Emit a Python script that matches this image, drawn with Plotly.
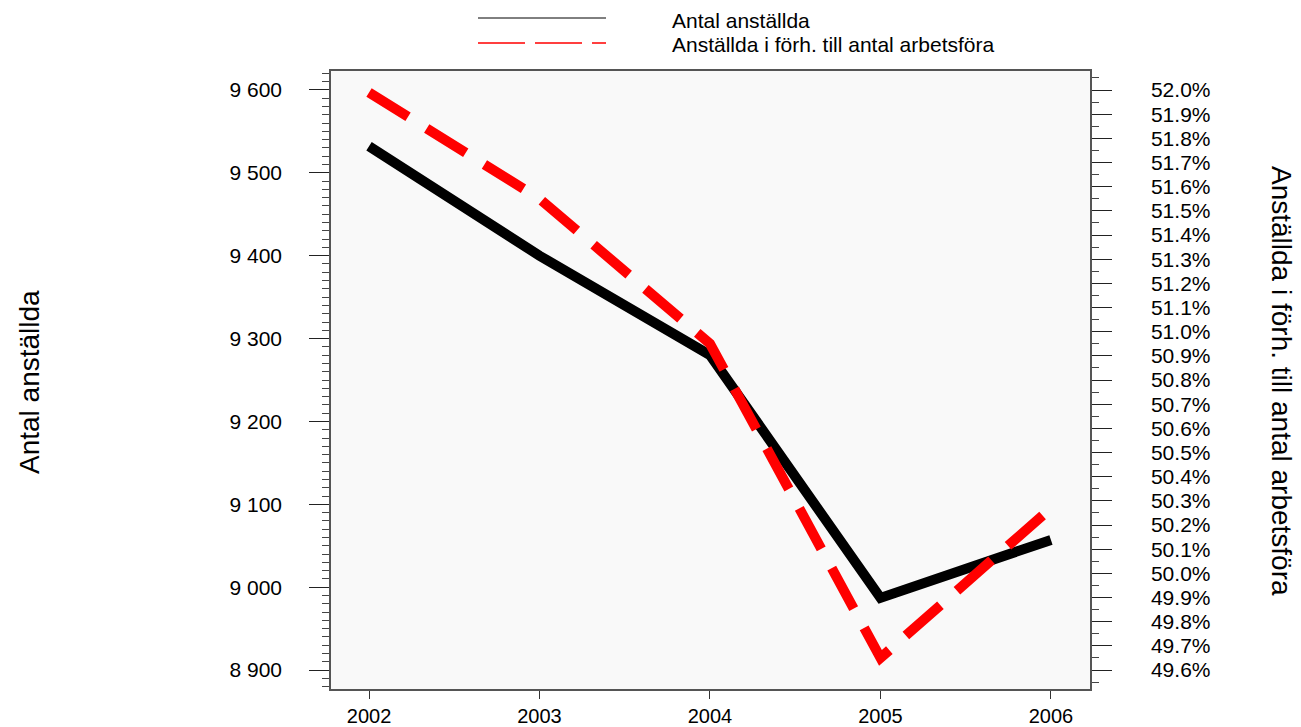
import plotly.graph_objects as go

years = [2002, 2003, 2004, 2005, 2006]
anstallda = [9532, 9400, 9280, 8987, 9057]
andel_pct = [51.99, 51.55, 50.95, 49.65, 50.27]

name1 = "Antal anställda"
name2 = "Anställda i förh. till antal arbetsföra"
left_title = "Antal anställda"
right_title = "Anställda i förh. till antal arbetsföra"

left_ticks = [8900, 9000, 9100, 9200, 9300, 9400, 9500, 9600]
left_labels = ["8 900", "9 000", "9 100", "9 200", "9 300", "9 400", "9 500", "9 600"]
right_ticks = [49.6 + 0.1 * i for i in range(25)]

FONT = "Liberation Sans, Arial, sans-serif"

# page has an 8px body margin; compensate so that page coordinates match
OFF = 8
PL, PR, PT, PB = 331, 1090, 71, 689   # plot area in page pixels
FW, FH = 1301 - OFF, 727 - OFF
ML, MR, MT, MB = PL - OFF, FW - (PR - OFF), PT - OFF, FH - (PB - OFF)
W = PR - PL
H = PB - PT


def px(xp):
    return (xp - PL) / W


def py(yp):
    return (PB - yp) / H


fig = go.Figure()
fig.add_trace(go.Scatter(x=years, y=anstallda, mode="lines", name=name1,
                         line=dict(color="black", width=10), yaxis="y", showlegend=False))
fig.add_trace(go.Scatter(x=years, y=andel_pct, mode="lines", name=name2,
                         line=dict(color="#ff0000", width=10, dash="46px,22px"),
                         yaxis="y2", showlegend=False))

fig.update_layout(
    width=FW, height=FH,
    margin=dict(l=ML, r=MR, t=MT, b=MB, autoexpand=False),
    paper_bgcolor="white",
    plot_bgcolor="#f9f9f9",
    font=dict(family=FONT, size=21, color="black"),
    xaxis=dict(range=[2001.777, 2006.229], tickvals=years, ticktext=[str(y) for y in years],
               ticks="outside", ticklen=8, tickcolor="#333", showgrid=False, zeroline=False,
               showline=True, linecolor="#555", linewidth=1.5, mirror=True,
               tickfont=dict(size=20), ticklabelstandoff=0, automargin=False),
    yaxis=dict(range=[8877.1, 9622.9], tickvals=left_ticks, ticktext=left_labels,
               ticks="outside", ticklen=20, tickcolor="#222", showgrid=False, zeroline=False,
               showline=True, linecolor="#555", linewidth=1.5,
               ticklabelstandoff=23, automargin=False,
               minor=dict(dtick=10, tick0=8900, ticks="outside", ticklen=7, tickcolor="#444",
                          showgrid=False)),
    yaxis2=dict(range=[49.5214, 52.0786], overlaying="y", side="right",
                tickvals=right_ticks, ticktext=["%.1f%%" % v for v in right_ticks],
                ticks="outside", ticklen=20, tickcolor="#222", showgrid=False, zeroline=False,
                showline=True, linecolor="#555", linewidth=1.5,
                ticklabelstandoff=35, automargin=False,
                minor=dict(dtick=0.05, tick0=49.6, ticks="outside", ticklen=7, tickcolor="#444",
                           showgrid=False)),
)

# axis titles
fig.add_annotation(text=left_title, textangle=-90, showarrow=False, font=dict(size=28),
                   xref="paper", yref="paper", x=px(29), y=py(382),
                   xanchor="center", yanchor="middle")
fig.add_annotation(text=right_title, textangle=90, showarrow=False, font=dict(size=28),
                   xref="paper", yref="paper", x=px(1281), y=py(381),
                   xanchor="center", yanchor="middle")

# legend drawn above the plot
fig.add_shape(type="line", xref="paper", yref="paper", x0=px(478), x1=px(606), y0=py(18), y1=py(18),
              line=dict(color="black", width=1))
fig.add_shape(type="line", xref="paper", yref="paper", x0=px(478), x1=px(606), y0=py(43), y1=py(43),
              line=dict(color="#ff0000", width=1.5, dash="47px,10px"))
fig.add_annotation(text=name1, showarrow=False, xref="paper", yref="paper", x=px(670), y=py(20),
                   xanchor="left", yanchor="middle", font=dict(size=21))
fig.add_annotation(text=name2, showarrow=False, xref="paper", yref="paper", x=px(670), y=py(45),
                   xanchor="left", yanchor="middle", font=dict(size=21))

fig.write_html("out.html")
